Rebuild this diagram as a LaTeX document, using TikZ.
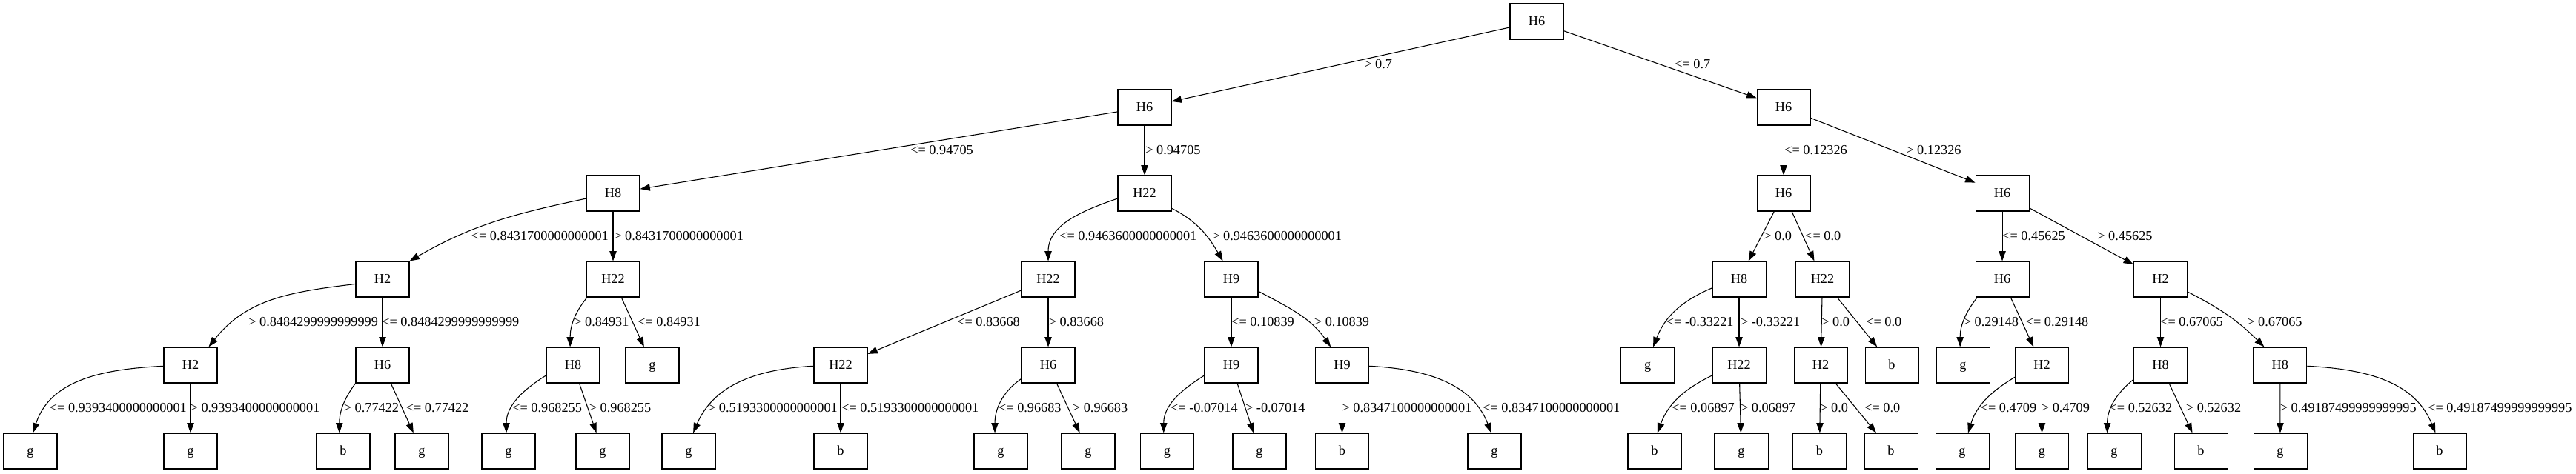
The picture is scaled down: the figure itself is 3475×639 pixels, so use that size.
\documentclass[tikz,border=0pt]{standalone}
\usepackage{fontspec}
\setmainfont{Liberation Serif}
\usetikzlibrary{arrows.meta}
\begin{document}
\begin{tikzpicture}[x=0.75pt,y=0.75pt,
  tn/.style={draw,line width=0.8pt,minimum width=54pt,minimum height=36pt,inner sep=0pt,font=\fontsize{13.7}{16}\selectfont,text height=11.5pt,text depth=3pt},
  lab/.style={anchor=west,inner sep=0pt,font=\fontsize{13.7}{16}\selectfont,text height=11.5pt,text depth=3pt},
  ed/.style={line width=0.8pt,-{Triangle[length=10pt,width=7pt]}}]
\useasboundingbox (0,0) rectangle (3475,639);
% level 0
\node[tn] (r) at (2073,610) {H6};
% level 1
\node[tn] (A) at (1544,494) {H6};
\node[tn] (B) at (2406,494) {H6};
% level 2
\node[tn] (C) at (827,378) {H8};
\node[tn] (D) at (1544,378) {H22};
\node[tn] (E) at (2406,378) {H6};
\node[tn] (F) at (2701,378) {H6};
% level 3
\node[tn] (G) at (516,262) {H2};
\node[tn] (H) at (827,262) {H22};
\node[tn] (I) at (1414,262) {H22};
\node[tn] (J) at (1661,262) {H9};
\node[tn] (K) at (2346,262) {H8};
\node[tn] (L) at (2458.5,262) {H22};
\node[tn] (M) at (2701,262) {H6};
\node[tn] (N) at (2914.5,262) {H2};
% level 4
\node[tn] (O) at (257,146) {H2};
\node[tn] (P) at (516,146) {H6};
\node[tn] (Q) at (773,146) {H8};
\node[tn] (R) at (880,146) {g};
\node[tn] (S) at (1134,146) {H22};
\node[tn] (T) at (1414,146) {H6};
\node[tn] (U) at (1661,146) {H9};
\node[tn] (V) at (1810.5,146) {H9};
\node[tn] (W) at (2222.6,146) {g};
\node[tn] (X) at (2346,146) {H22};
\node[tn] (Y) at (2456,146) {H2};
\node[tn] (Z) at (2552,146) {b};
\node[tn] (AA) at (2648,146) {g};
\node[tn] (AB) at (2754.5,146) {H2};
\node[tn] (AC) at (2914.5,146) {H8};
\node[tn] (AD) at (3075.7,146) {H8};
% level 5
\node[tn] (q1) at (41,30) {g};
\node[tn] (q2) at (257,30) {g};
\node[tn] (q3) at (463,30) {b};
\node[tn] (q4) at (569,30) {g};
\node[tn] (q5) at (686,30) {g};
\node[tn] (q6) at (813,30) {g};
\node[tn] (q7) at (929,30) {g};
\node[tn] (q8) at (1134,30) {b};
\node[tn] (q9) at (1350,30) {g};
\node[tn] (q10) at (1468,30) {g};
\node[tn] (q11) at (1574.5,30) {g};
\node[tn] (q12) at (1699,30) {g};
\node[tn] (q13) at (1810.5,30) {b};
\node[tn] (q14) at (2016,30) {g};
\node[tn] (q15) at (2232,30) {b};
\node[tn] (q16) at (2349,30) {g};
\node[tn] (q17) at (2454.5,30) {b};
\node[tn] (q18) at (2551,30) {b};
\node[tn] (q19) at (2647,30) {g};
\node[tn] (q20) at (2754.5,30) {g};
\node[tn] (q21) at (2852,30) {g};
\node[tn] (q22) at (2969,30) {b};
\node[tn] (q23) at (3076,30) {g};
\node[tn] (q24) at (3291,30) {b};
% edges
\draw[ed] (r) -- (A);
\draw[ed] (r) -- (B);
\draw[ed] (A) -- (C);
\draw[ed] (A) -- (D);
\draw[ed] (B) -- (E);
\draw[ed] (B) -- (F);
\draw[ed] (C.191) to[out=192,in=30] (G.north east);
\draw[ed] (C) -- (H);
\draw[ed] (D.191) to[out=199,in=90] (I.north);
\draw[ed] (D.331) to[out=333,in=120] (J.115);
\draw[ed] (E) -- (K);
\draw[ed] (E) -- (L);
\draw[ed] (F) -- (M);
\draw[ed] (F) -- (N);
\draw[ed] (G.190) to[out=187,in=52] (O.45);
\draw[ed] (G) -- (P);
\draw[ed] (H.215) to[out=231,in=90] (Q.99);
\draw[ed] (H) -- (R);
\draw[ed] (I) -- (S);
\draw[ed] (I) -- (T);
\draw[ed] (J) -- (U);
\draw[ed] (J.336) to[out=332,in=125] (V.122);
\draw[ed] (K.198) to[out=203,in=69] (W.73);
\draw[ed] (K) -- (X);
\draw[ed] (L) -- (Y);
\draw[ed] (L) -- (Z);
\draw[ed] (M.216) to[out=232,in=90] (AA.99);
\draw[ed] (M) -- (AB);
\draw[ed] (N) -- (AC);
\draw[ed] (N.335) to[out=333,in=135] (AD.131);
\draw[ed] (O.182) to[out=183,in=72] (q1.82);
\draw[ed] (O) -- (q2);
\draw[ed] (P.214) to[out=233,in=90] (q3.102);
\draw[ed] (P) -- (q4);
\draw[ed] (Q.201) to[out=212,in=90] (q5.97);
\draw[ed] (Q) -- (q6);
\draw[ed] (S.182) to[out=183,in=67] (q7.76);
\draw[ed] (S) -- (q8);
\draw[ed] (T.207) to[out=215,in=90] (q9.108);
\draw[ed] (T) -- (q10);
\draw[ed] (U.201) to[out=212,in=90] (q11.101);
\draw[ed] (U) -- (q12);
\draw[ed] (V) -- (q13);
\draw[ed] (V.358) to[out=357,in=111] (q14.100);
\draw[ed] (X.201) to[out=206,in=70] (q15.81);
\draw[ed] (X) -- (q16);
\draw[ed] (Y) -- (q17);
\draw[ed] (Y) -- (q18);
\draw[ed] (AB.204) to[out=211,in=73] (q19.72);
\draw[ed] (AB) -- (q20);
\draw[ed] (AC.208) to[out=219,in=90] (q21.111);
\draw[ed] (AC) -- (q22);
\draw[ed] (AD) -- (q23);
\draw[ed] (AD.358) to[out=357,in=112] (q24.103);
% labels level 0-1
\node[lab] (t1) at (1840,552) {> 0.7};
\node[lab] (t2) at (2259,552) {<= 0.7};
% level 1-2
\node[lab] (t3) at (1228,436) {<= 0.94705};
\node[lab] (t4) at (1545,436) {> 0.94705};
\node[lab] (t5) at (2407,436) {<= 0.12326};
\node[lab] (t6) at (2571,436) {> 0.12326};
% level 2-3
\node[lab] (t7) at (635.5,320) {<= 0.8431700000000001};
\node[lab] (t8) at (828,320) {> 0.8431700000000001};
\node[lab] (t9) at (1429,320) {<= 0.9463600000000001};
\node[lab] (t10) at (1635,320) {> 0.9463600000000001};
\node[lab] (t11) at (2379,320) {> 0.0};
\node[lab] (t12) at (2435,320) {<= 0.0};
\node[lab] (t13) at (2701,320) {<= 0.45625};
\node[lab] (t14) at (2829,320) {> 0.45625};
% level 3-4
\node[lab] (t15) at (335,204) {> 0.8484299999999999};
\node[lab] (t16) at (515,204) {<= 0.8484299999999999};
\node[lab] (t17) at (774,204) {> 0.84931};
\node[lab] (t18) at (860,204) {<= 0.84931};
\node[lab] (t19) at (1291,204) {<= 0.83668};
\node[lab] (t20) at (1414.5,204) {> 0.83668};
\node[lab] (t21) at (1661,204) {<= 0.10839};
\node[lab] (t22) at (1772.6,204) {> 0.10839};
\node[lab] (t23) at (2247.6,204) {<= -0.33221};
\node[lab] (t24) at (2347.7,204) {> -0.33221};
\node[lab] (t25) at (2457,204) {> 0.0};
\node[lab] (t26) at (2517,204) {<= 0.0};
\node[lab] (t27) at (2648.5,204) {> 0.29148};
\node[lab] (t28) at (2732.5,204) {<= 0.29148};
\node[lab] (t29) at (2914,204) {<= 0.67065};
\node[lab] (t30) at (3031,204) {> 0.67065};
% level 4-5
\node[lab] (t31) at (66.6,88) {<= 0.9393400000000001};
\node[lab] (t32) at (256.4,88) {> 0.9393400000000001};
\node[lab] (t33) at (463.6,88) {> 0.77422};
\node[lab] (t34) at (547.5,88) {<= 0.77422};
\node[lab] (t35) at (691,88) {<= 0.968255};
\node[lab] (t36) at (794.6,88) {> 0.968255};
\node[lab] (t37) at (954.8,88) {> 0.5193300000000001};
\node[lab] (t38) at (1135,88) {<= 0.5193300000000001};
\node[lab] (t39) at (1346.8,88) {<= 0.96683};
\node[lab] (t40) at (1446.7,88) {> 0.96683};
\node[lab] (t41) at (1578.8,88) {<= -0.07014};
\node[lab] (t42) at (1679.8,88) {> -0.07014};
\node[lab] (t43) at (1810.3,88) {> 0.8347100000000001};
\node[lab] (t44) at (2000,88) {<= 0.8347100000000001};
\node[lab] (t45) at (2255,88) {<= 0.06897};
\node[lab] (t46) at (2347.7,88) {> 0.06897};
\node[lab] (t47) at (2455,88) {> 0.0};
\node[lab] (t48) at (2515,88) {<= 0.0};
\node[lab] (t49) at (2671.5,88) {<= 0.4709};
\node[lab] (t50) at (2753.6,88) {> 0.4709};
\node[lab] (t51) at (2845.3,88) {<= 0.52632};
\node[lab] (t52) at (2948.6,88) {> 0.52632};
\node[lab] (t53) at (3075.5,88) {> 0.49187499999999995};
\node[lab] (t54) at (3275,88) {<= 0.49187499999999995};
\end{tikzpicture}
\end{document}
